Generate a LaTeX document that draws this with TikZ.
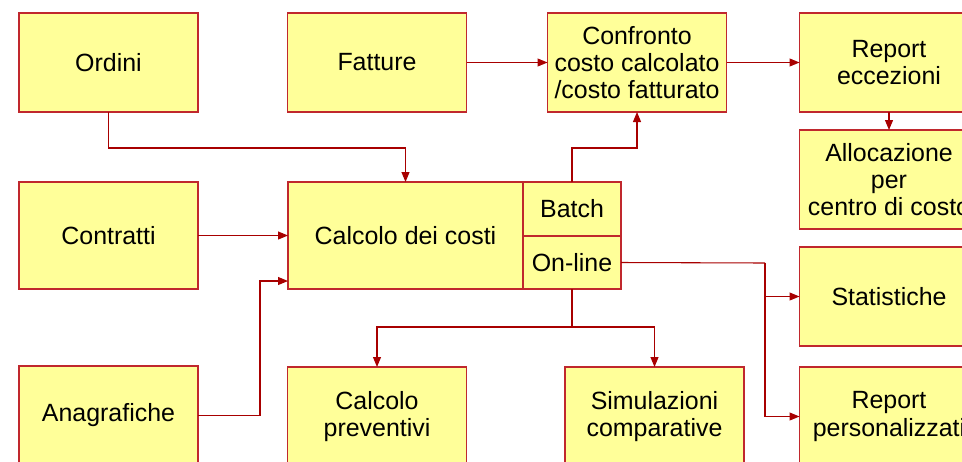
\documentclass[tikz,border=0pt]{standalone}
\usepackage{fontspec}
\setmainfont{Liberation Sans}
\usepackage{tikz}
\usetikzlibrary{arrows.meta}
\usepackage{xcolor}
\definecolor{boxfill}{HTML}{FFFF99}
\definecolor{boxline}{HTML}{C0282D}
\definecolor{linkline}{HTML}{A80000}

\begin{document}
\begin{tikzpicture}[x=0.75pt, y=-0.75pt,
		box/.style={draw=boxline, line width=1.1pt, fill=boxfill, inner sep=0pt, outer sep=0pt,
			minimum width=134.25pt, minimum height=74.25pt, align=center,
			font=\fontsize{18.7}{20.3}\selectfont},
		link/.style={draw=linkline, line width=0.8pt, -{Triangle[length=7.5pt,width=6pt]}},
		plain/.style={draw=linkline, line width=0.8pt}]
				\useasboundingbox (0,0) rectangle (962,461);
				\clip (0,0) rectangle (962,461);
				\node[box] (ordini) at (108.5, 62.5) {Ordini};
				\node[box] (fatture) at (377, 62.5) {Fatture};
				\node[box] (confr) at (637, 62.5) {Confronto\\costo calcolato\\/costo fatturato};
				\node[box] (repecc) at (889, 62.5) {Report\\eccezioni};
				\node[box] (alloc) at (889, 179.5) {Allocazione\\per\\centro di costo};
				\node[box, minimum height=80.25pt] (contr) at (108.5, 235.5) {Contratti};
				\node[box, minimum width=176.25pt, minimum height=80.25pt] (calc) at (405.5, 235.5) {Calcolo dei costi};
				\node[box, minimum width=73.5pt, minimum height=40.5pt] (batch) at (572, 209) {Batch};
				\node[box, minimum width=73.5pt, minimum height=39.75pt] (online) at (572, 262.5) {On-line};
				\node[box] (stat) at (889, 296.5) {Statistiche};
				\node[box] (anag) at (108.5, 415.5) {Anagrafiche};
				\node[box] (prev) at (377, 416.5) {Calcolo\\preventivi};
				\node[box] (sim) at (654.5, 416.5) {Simulazioni\\comparative};
				\node[box] (repp) at (889, 416.5) {Report\\personalizzati};
				\coordinate (calcin) at (288, 281);
				\coordinate (split) at (765, 263);
				\coordinate (fork) at (572, 327);
				\draw[link] (ordini.south) -- ++(0, 36) -| (calc.north);
				\draw[link] (fatture.east) -- (confr.west);
				\draw[link] (confr.east) -- (repecc.west);
				\draw[link] (repecc.south) -- (alloc.north);
				\draw[link] (batch.north) -- ++(0, -34) -| (confr.south);
				\draw[link] (contr.east) -- (calc.west);
				\draw[link] (anag.east) -- ++(62, 0) |- (calcin);
				\draw[plain] (online.east) -- (split);
				\draw[link] (split) |- (stat.west);
				\draw[link] (split) |- (repp.west);
				\draw[plain] (online.south) -- (fork);
				\draw[link] (fork) -| (prev.north);
				\draw[link] (fork) -| (sim.north);
			\end{tikzpicture}
\end{document}
